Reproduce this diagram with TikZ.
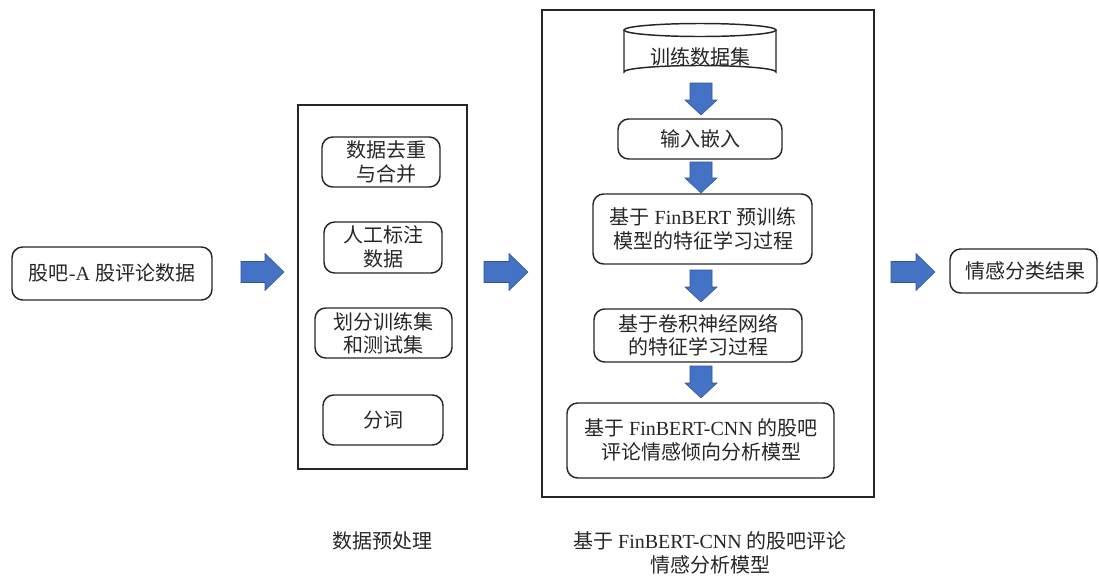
\documentclass[tikz,border=0pt]{standalone}
\usepackage{fontspec}
\setmainfont{Liberation Serif}
\newfontfamily\cj{Noto Sans CJK SC}
\definecolor{arrowblue}{HTML}{4472C4}
\definecolor{arrowedge}{HTML}{2F5597}
\definecolor{txt}{HTML}{262626}
\newcommand\C[1]{{\cj #1}}
\newcommand\blockR[3]{% tail x, tip x, center y
  \filldraw[barrow] (#1,#3-10.5) -- (#2-19,#3-10.5) -- (#2-19,#3-18.5) -- (#2,#3) -- (#2-19,#3+18.5) -- (#2-19,#3+10.5) -- (#1,#3+10.5) -- cycle;}
\newcommand\blockD[3]{% center x, top y, tip y
  \filldraw[barrow] (#1-11,#2) -- (#1+11,#2) -- (#1+11,#3-15) -- (#1+16,#3-15) -- (#1,#3) -- (#1-16,#3-15) -- (#1-11,#3-15) -- cycle;}
\tikzset{
  rbox/.style={draw=black!85, line width=1.1pt, rounded corners=8pt},
  frame/.style={draw=black!85, line width=1.1pt},
  barrow/.style={fill=arrowblue, draw=arrowedge, line width=0.4pt},
  lbl/.style={text=txt, font=\fontsize{15}{17.5}\selectfont, align=center, inner sep=0pt},
  captxt/.style={text=txt, font=\fontsize{15}{18}\selectfont, align=center, inner sep=0pt},
}
\begin{document}
\begin{tikzpicture}[x=0.75pt, y=-0.75pt]
\useasboundingbox (0,0) rectangle (1099,576);

% left input
\draw[rbox] (12,247) rectangle (212,300);
\node[lbl] (in) at (112,273) {\C{股吧}-A \C{股评论数据}};

\blockR{241}{284}{272}

% data preprocessing frame
\draw[frame] (298,105) rectangle (467,469);
\draw[rbox] (322,137) rectangle (440,187);
\node[lbl] (p1) at (386,162) {\C{数据去重}\\\C{与合并}};
\draw[rbox] (324,222) rectangle (442,273);
\node[lbl] (p2) at (383,247) {\C{人工标注}\\\C{数据}};
\draw[rbox] (315,308) rectangle (452,358);
\node[lbl] (p3) at (383,333) {\C{划分训练集}\\\C{和测试集}};
\draw[rbox] (323,395) rectangle (443,445);
\node[lbl] (p4) at (383,420) {\C{分词}};
\node[captxt] (c1) at (382,541) {\C{数据预处理}};

\blockR{484}{528}{272}

% model frame
\draw[frame] (542,10) rectangle (874,497);
% cylinder
\draw[line width=1.1pt, draw=black!85, fill=white]
  (624,30) -- (624,72) arc[start angle=180, end angle=360, x radius=76, y radius=6.5]
  -- (776,30);
\draw[line width=1.1pt, draw=black!85] (700,30) ellipse[x radius=76, y radius=6.5];
\node[lbl] (m0) at (700,57) {\C{训练数据集}};

\blockD{701}{83}{115}
\draw[rbox] (618,119) rectangle (782,159);
\node[lbl] (m1) at (700,139) {\C{输入嵌入}};

\blockD{701}{162}{193}
\draw[rbox] (593,194) rectangle (812,264);
\node[lbl] (m2) at (703,229) {\C{基于} FinBERT \C{预训练}\\\C{模型的特征学习过程}};

\blockD{701}{270}{302}
\draw[rbox] (594,309) rectangle (802,362);
\node[lbl] (m3) at (698,335) {\C{基于卷积神经网络}\\\C{的特征学习过程}};

\blockD{701}{366}{398}
\draw[rbox] (567,403) rectangle (834,478);
\node[lbl] (m4) at (701,440) {\C{基于} FinBERT-CNN \C{的股吧}\\\C{评论情感倾向分析模型}};

\node[captxt] (c2) at (710,553) {\C{基于} FinBERT-CNN \C{的股吧评论}\\\C{情感分析模型}};

\blockR{891}{935}{272}

% output
\draw[rbox] (950,249) rectangle (1097,293);
\node[lbl] (out) at (1025,271) {\C{情感分类结果}};
\end{tikzpicture}
\end{document}
